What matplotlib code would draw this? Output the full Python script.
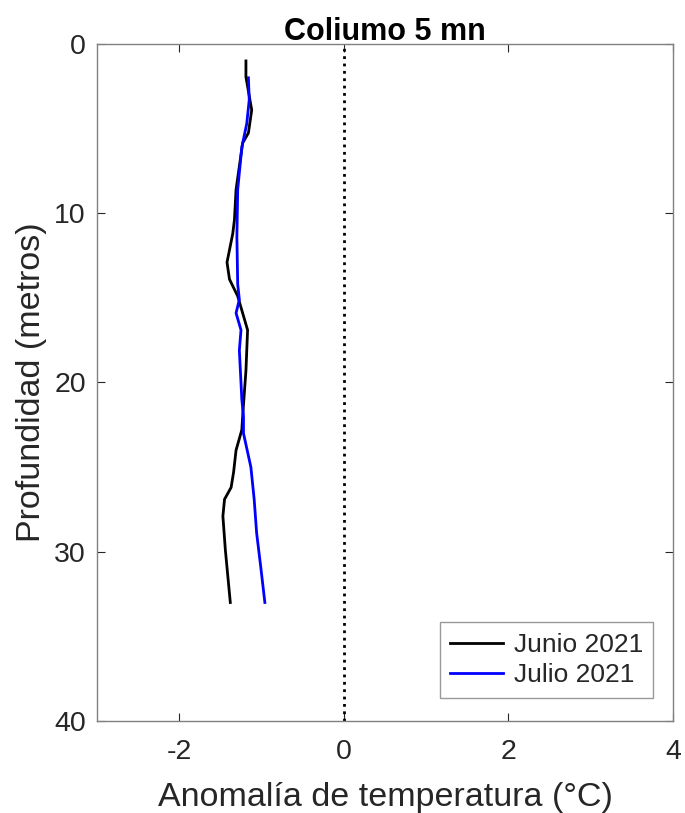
import matplotlib
matplotlib.use("Agg")
import matplotlib.pyplot as plt

plt.rcParams['font.family'] = ['Liberation Sans', 'DejaVu Sans']
plt.rcParams['axes.unicode_minus'] = False

# Junio 2021
depth_jun = [1.0, 1.95, 3.9, 5.26, 5.85, 8.6, 10.4, 11.2, 12.9, 13.9, 14.9, 16.9, 19.3, 22.0, 22.8, 24.0, 25.3, 26.2, 26.9, 27.9, 29.9, 33.0]
anom_jun = [-1.19, -1.19, -1.12, -1.16, -1.23, -1.31, -1.33, -1.35, -1.42, -1.39, -1.29, -1.17, -1.19, -1.23, -1.24, -1.31, -1.34, -1.37, -1.45, -1.47, -1.44, -1.38]

# Julio 2021
depth_jul = [2.0, 3.3, 4.7, 6.1, 8.6, 11.4, 14.2, 15.1, 15.9, 16.9, 18.1, 21.0, 22.0, 23.0, 25.0, 26.9, 28.9, 30.9, 33.0]
anom_jul = [-1.16, -1.15, -1.18, -1.24, -1.29, -1.30, -1.29, -1.27, -1.31, -1.25, -1.27, -1.24, -1.22, -1.22, -1.13, -1.09, -1.06, -1.01, -0.96]

xticks = [-2, 0, 2, 4]
yticks = [0, 10, 20, 30, 40]

axc = '#262626'
fig = plt.figure(figsize=(6.85, 8.13), dpi=100)
ax = fig.add_axes([0.1416, 0.1132, 0.8409, 0.8327])

ax.plot(anom_jun, depth_jun, color='black', lw=2.0, label='Junio 2021')
ax.plot(anom_jul, depth_jul, color='blue', lw=2.0, label='Julio 2021')
ax.axvline(0, color='black', ls=':', lw=2)

ax.set_xlim(-3, 4)
ax.set_ylim(40, 0)
ax.set_xticks(xticks)
ax.set_yticks(yticks)
ax.tick_params(direction='in', top=True, right=True, labelsize=20.5, colors=axc, length=6, width=0.8)
ax.tick_params(axis='x', pad=13)
ax.tick_params(axis='y', pad=8)
for s in ax.spines.values():
    s.set_color('#808080')
    s.set_linewidth(1.0)

ax.set_xlabel('Anomalía de temperatura (°C)', fontsize=24.5, color=axc, labelpad=12)
ax.set_ylabel('Profundidad (metros)', fontsize=24.5, color=axc, labelpad=5)
ax.set_title('Coliumo 5 mn', fontsize=22, fontweight='bold', color='black', pad=3)

leg = ax.legend(loc='lower right', fontsize=19, frameon=True, fancybox=False,
                edgecolor='#808080', handlelength=2.0, borderpad=0.4,
                labelspacing=0.25, handletextpad=0.4, borderaxespad=0,
                bbox_to_anchor=(0.966, 0.034))
leg.get_frame().set_linewidth(1.0)
for t in leg.get_texts():
    t.set_color(axc)

fig.savefig('out.png', dpi=100)
